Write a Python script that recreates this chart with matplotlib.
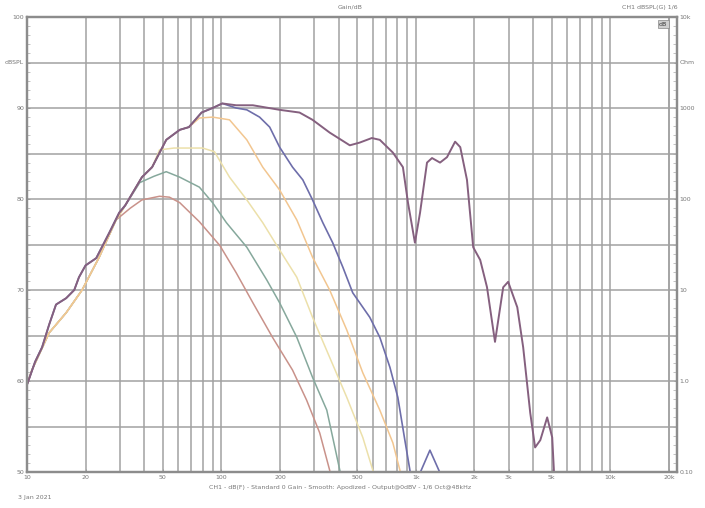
import numpy as np
import matplotlib
matplotlib.use("Agg")
import matplotlib.pyplot as plt
from matplotlib.ticker import FixedLocator, NullFormatter

# ---------------- data (Hz, dB) ----------------
# unfiltered response, low-frequency part (with its small ripples)
raw_low_f = [10, 10.2, 11.0, 11.95, 13.0, 14.1, 15.9, 17.5, 18.5, 20, 22.7, 26.5, 29.8,
             32, 39, 44, 52, 61, 68, 79, 90, 101]
raw_low_db = [59.6, 60.1, 62.1, 63.7, 66.2, 68.4, 69.1, 70.0, 71.4, 72.7, 73.5, 76.3, 78.5,
              79.3, 82.4, 83.5, 86.5, 87.6, 87.9, 89.5, 90.0, 90.5]

# full-range (unfiltered) response, upper part
full_f = [119, 145, 199, 252, 294, 360, 457, 514, 593, 652, 761, 857, 910, 988, 1050,
          1140, 1210, 1330, 1445, 1590, 1690, 1830, 1970, 2140, 2320, 2550, 2810, 2980,
          3320, 3560, 3870, 4100, 4360, 4730, 5020, 5300]
full_db = [90.3, 90.3, 89.8, 89.5, 88.7, 87.3, 85.9, 86.2, 86.7, 86.5, 85.1, 83.5, 79.6,
           75.2, 78.5, 84.0, 84.5, 84.0, 84.6, 86.3, 85.7, 82.1, 74.7, 73.3, 70.3, 64.3,
           70.3, 70.9, 68.1, 63.7, 56.5, 52.7, 53.5, 56.0, 53.8, 44.0]

# low-pass 1 (blue)
lp1_f = [119, 135, 157, 177, 199, 232, 262, 294, 332, 373, 421, 473, 579, 652, 735,
         807, 877, 931, 980, 1050, 1180, 1330, 1420]
lp1_db = [90.0, 89.8, 89.0, 87.9, 85.7, 83.5, 82.1, 79.9, 77.4, 75.2, 72.5, 69.7, 67.0,
          64.8, 61.5, 58.2, 53.5, 50.2, 46.0, 49.9, 52.4, 49.9, 45.0]

# smooth common slope shared by the filtered curves
base_f = [10, 10.6, 13.0, 15.9, 19.2, 23.5, 28.7]
base_db = [59.6, 61.2, 65.3, 67.5, 70.0, 73.6, 77.7]

# low-pass 2 (orange)
lp2_f = [32, 39, 44, 52, 61, 68, 77, 90, 110, 135, 163, 199, 244, 294, 360, 441, 533,
         652, 761, 827, 900]
lp2_db = [79.3, 82.4, 83.5, 86.5, 87.6, 87.9, 88.9, 89.0, 88.7, 86.5, 83.5, 81.0, 77.7,
          73.6, 70.0, 65.6, 60.9, 56.8, 53.2, 50.2, 46.0]

# low-pass 3 (yellow)
lp3_f = [32, 39, 44, 48, 57, 80, 92, 110, 135, 163, 199, 244, 294, 360, 441, 533, 600, 660]
lp3_db = [79.3, 82.4, 83.5, 85.4, 85.6, 85.6, 85.2, 82.4, 79.9, 77.4, 74.4, 71.4, 67.0,
          62.6, 58.2, 53.8, 50.2, 46.0]

# low-pass 4 (green)
lp4_f = [32, 38, 45, 52, 61, 77, 90, 106, 135, 171, 199, 244, 294, 348, 406, 450]
lp4_db = [79.3, 81.8, 82.5, 83.0, 82.4, 81.3, 79.6, 77.4, 74.7, 71.1, 68.6, 64.8, 60.4,
          56.8, 50.2, 46.0]

# low-pass 5 (red)
lp5_f = [34, 39, 48, 54, 61, 77, 98, 119, 145, 183, 232, 274, 320, 360, 390]
lp5_db = [79.0, 79.9, 80.3, 80.2, 79.6, 77.5, 74.9, 71.9, 68.6, 64.8, 61.2, 57.9, 54.3,
          50.2, 46.0]

x_tick_vals = [10, 20, 50, 100, 200, 500, 1000, 2000, 3000, 5000, 10000, 20000]
x_tick_labels = ["10", "20", "50", "100", "200", "500", "1k", "2k", "3k", "5k", "10k", "20k"]
y_tick_vals = [50, 60, 70, 80, 90, 95, 100]
y_left_labels = ["50", "60", "70", "80", "90", "dBSPL", "100"]
y_right_labels = ["0.10", "1.0", "10", "100", "1000", "Ohm", "10k"]

# ---------------- figure ----------------
W, H = 705, 508
fig = plt.figure(figsize=(W / 100, H / 100), dpi=100)
fig.patch.set_facecolor("white")
ax = fig.add_axes([27 / W, 1 - 472 / H, (677 - 27) / W, (472 - 17) / H])
ax.set_xscale("log")
ax.set_xlim(10, 22000)
ax.set_ylim(50, 100)

grid_c = "#a2a2a2"
ax.xaxis.set_major_locator(FixedLocator(x_tick_vals))
minor_x = [m * 10 ** e for e in range(1, 5) for m in range(1, 10)]
ax.xaxis.set_minor_locator(FixedLocator(minor_x))
ax.xaxis.set_minor_formatter(NullFormatter())
ax.set_xticklabels(x_tick_labels)
for v in minor_x + [20000]:
    if 10 < v < 22000:
        ax.axvline(v, color=grid_c, lw=1.1, zorder=1)
for v in np.arange(55, 100, 5):
    ax.axhline(v, color=grid_c, lw=1.1, zorder=1)

ax.set_yticks(y_tick_vals)
ax.set_yticklabels(y_left_labels)
ax.yaxis.set_minor_locator(FixedLocator(np.arange(50, 100, 1)))
ax.tick_params(axis="both", which="major", labelsize=4.5, labelcolor="#777777",
               color="#999999", length=2, direction="in", width=0.6, pad=2)
ax.tick_params(axis="y", which="minor", length=2.5, direction="in", color="#aaaaaa", width=0.5)
ax.tick_params(axis="x", which="minor", length=0)

ax2 = ax.twinx()
ax2.set_ylim(50, 100)
ax2.set_yticks(y_tick_vals)
ax2.set_yticklabels(y_right_labels)
ax2.yaxis.set_minor_locator(FixedLocator(np.arange(50, 100, 1)))
ax2.tick_params(axis="y", which="major", labelsize=4.5, labelcolor="#777777",
                color="#999999", length=2, direction="in", width=0.6, pad=2)
ax2.tick_params(axis="y", which="minor", length=3, direction="in", color="#aaaaaa", width=0.5)

for a in (ax, ax2):
    for s in a.spines.values():
        s.set_color("#8c8c8c")
        s.set_linewidth(1.6)

# ---------------- curves ----------------
def cat(a, b):
    return np.concatenate([np.asarray(a, float), np.asarray(b, float)])

curves = [
    (cat(base_f, lp5_f), cat(base_db, lp5_db), "#c9928a", 1.1),
    (cat(base_f, lp4_f), cat(base_db, lp4_db), "#86a89c", 1.1),
    (cat(base_f, lp3_f), cat(base_db, lp3_db), "#ece0aa", 1.1),
    (cat(base_f, lp2_f), cat(base_db, lp2_db), "#f2c690", 1.1),
    (cat(raw_low_f, lp1_f), cat(raw_low_db, lp1_db), "#6e6eaa", 1.2),
    (cat(raw_low_f, full_f), cat(raw_low_db, full_db), "#85607f", 1.4),
]
for f, d, c, lw in curves:
    ax.plot(f, d, color=c, lw=lw, zorder=3, solid_joinstyle="round")

# ---------------- texts ----------------
tc = "#777777"
fig.text(350 / W, 1 - 7 / H, "Gain/dB", ha="center", va="center", fontsize=4.5, color=tc)
fig.text(678 / W, 1 - 7 / H, "CH1 dBSPL(G) 1/6", ha="right", va="center", fontsize=4.5, color=tc)
ax.text(0.985, 0.99, "dB", transform=ax.transAxes, ha="right", va="top", fontsize=4.5,
        color="#333333", bbox=dict(boxstyle="square,pad=0.2", fc="#cfcfcf", ec="#888888", lw=0.5))
fig.text(340 / W, 1 - 487 / H,
         "CH1 - dB(F) - Standard 0 Gain - Smooth: Apodized - Output@0dBV - 1/6 Oct@48kHz",
         ha="center", va="center", fontsize=4.5, color=tc)
fig.text(18 / W, 1 - 497 / H, "3 Jan 2021", ha="left", va="center", fontsize=4.5, color=tc)

fig.savefig("out.png", dpi=100, facecolor="white")
